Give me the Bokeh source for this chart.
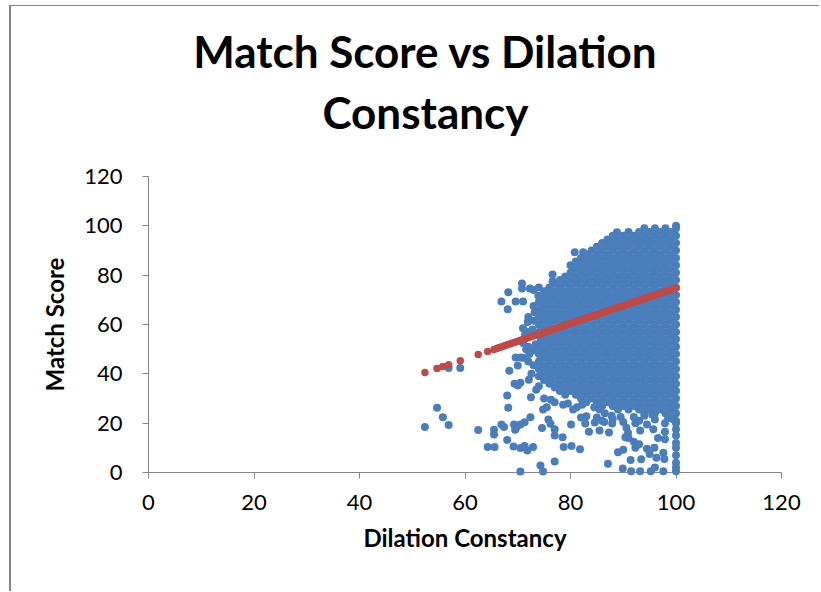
from bokeh.plotting import figure
from bokeh.models import Range1d, FixedTicker
from bokeh.embed import file_html
from bokeh.resources import INLINE
from bokeh.core.properties import value

# ---- tick values ----
x_ticks = [0, 20, 40, 60, 80, 100, 120]
y_ticks = [0, 20, 40, 60, 80, 100, 120]

# ---- dense core of the cloud: Dilation Constancy columns and Match Scores ----
cloud_x_cols = [71, 72, 73, 74, 75, 76, 77, 78, 79, 80, 81, 82, 83, 84, 85,
                86, 87, 88, 89, 90, 91, 92, 93, 94, 95, 96, 97, 98, 99, 100]
cloud_y_cols = [
    [46.5, 52.5, 58.5],
    [45, 51, 57, 63],
    [43.5, 49.5, 55.5, 61.5, 67.5],
    [39, 42, 45, 48, 51, 57, 60, 63, 69, 75],
    [37.5, 40.5, 43.5, 46.5, 49.5, 52.5, 55.5, 58.5, 61.5, 64.5, 67.5, 70.5, 73.5],
    [36, 39, 42, 45, 48, 51, 54, 57, 60, 63, 66, 69, 72, 75],
    [34.5, 37.5, 40.5, 43.5, 46.5, 49.5, 52.5, 55.5, 58.5, 61.5, 64.5, 67.5, 70.5, 73.5, 76.5],
    [33, 36, 39, 42, 45, 48, 51, 54, 57, 60, 63, 66, 69, 72, 75, 78],
    [31.5, 34.5, 37.5, 40.5, 43.5, 46.5, 49.5, 52.5, 55.5, 58.5, 61.5, 64.5, 67.5, 70.5, 73.5, 76.5, 79.5],
    [33, 36, 39, 42, 45, 48, 51, 54, 57, 60, 63, 66, 69, 72, 75, 78, 81, 84],
    [31.5, 34.5, 37.5, 40.5, 43.5, 46.5, 49.5, 52.5, 55.5, 58.5, 61.5, 64.5, 67.5, 70.5, 73.5, 76.5, 79.5, 82.5, 85.5],
    [30, 33, 36, 39, 42, 45, 48, 51, 54, 57, 60, 63, 66, 69, 72, 75, 78, 81, 84, 87],
    [28.5, 31.5, 34.5, 37.5, 40.5, 43.5, 46.5, 49.5, 52.5, 55.5, 58.5, 61.5, 64.5, 67.5, 70.5, 73.5, 76.5, 79.5, 82.5, 85.5, 88.5],
    [30, 33, 36, 39, 42, 45, 48, 51, 54, 57, 60, 63, 66, 69, 72, 75, 78, 81, 84, 87, 90],
    [28.5, 31.5, 34.5, 37.5, 40.5, 43.5, 46.5, 49.5, 52.5, 55.5, 58.5, 61.5, 64.5, 67.5, 70.5, 73.5, 76.5, 79.5, 82.5, 85.5, 88.5, 91.5],
    [27, 30, 33, 36, 39, 42, 45, 48, 51, 54, 57, 60, 63, 66, 69, 72, 75, 78, 81, 84, 87, 90, 93],
    [28.5, 31.5, 34.5, 37.5, 40.5, 43.5, 46.5, 49.5, 52.5, 55.5, 58.5, 61.5, 64.5, 67.5, 70.5, 73.5, 76.5, 79.5, 82.5, 85.5, 88.5, 91.5, 94.5],
    [27, 30, 33, 36, 39, 42, 45, 48, 51, 54, 57, 60, 63, 66, 69, 72, 75, 78, 81, 84, 87, 90, 93, 96],
    [25.5, 28.5, 31.5, 34.5, 37.5, 40.5, 43.5, 46.5, 49.5, 52.5, 55.5, 58.5, 61.5, 64.5, 67.5, 70.5, 73.5, 76.5, 79.5, 82.5, 85.5, 88.5, 91.5, 94.5],
    [27, 30, 33, 36, 39, 42, 45, 48, 51, 54, 57, 60, 63, 66, 69, 72, 75, 78, 81, 84, 87, 90, 93, 96],
    [25.5, 28.5, 31.5, 34.5, 37.5, 40.5, 43.5, 46.5, 49.5, 52.5, 55.5, 58.5, 61.5, 64.5, 67.5, 70.5, 73.5, 76.5, 79.5, 82.5, 85.5, 88.5, 91.5, 94.5, 97.5],
    [27, 30, 33, 36, 39, 42, 45, 48, 51, 54, 57, 60, 63, 66, 69, 72, 75, 78, 81, 84, 87, 90, 93, 96],
    [25.5, 28.5, 31.5, 34.5, 37.5, 40.5, 43.5, 46.5, 49.5, 52.5, 55.5, 58.5, 61.5, 64.5, 67.5, 70.5, 73.5, 76.5, 79.5, 82.5, 85.5, 88.5, 91.5, 94.5, 97.5],
    [24, 27, 30, 33, 36, 39, 42, 45, 48, 51, 54, 57, 60, 63, 66, 69, 72, 75, 78, 81, 84, 87, 90, 93, 96, 99],
    [25.5, 28.5, 31.5, 34.5, 37.5, 40.5, 43.5, 46.5, 49.5, 52.5, 55.5, 58.5, 61.5, 64.5, 67.5, 70.5, 73.5, 76.5, 79.5, 82.5, 85.5, 88.5, 91.5, 94.5, 97.5],
    [24, 27, 30, 33, 36, 39, 42, 45, 48, 51, 54, 57, 60, 63, 66, 69, 72, 75, 78, 81, 84, 87, 90, 93, 96, 99],
    [25.5, 28.5, 31.5, 34.5, 37.5, 40.5, 43.5, 46.5, 49.5, 52.5, 55.5, 58.5, 61.5, 64.5, 67.5, 70.5, 73.5, 76.5, 79.5, 82.5, 85.5, 88.5, 91.5, 94.5, 97.5],
    [24, 27, 30, 33, 36, 39, 42, 45, 48, 51, 54, 57, 60, 63, 66, 69, 72, 75, 78, 81, 84, 87, 90, 93, 96, 99],
    [22.5, 25.5, 28.5, 31.5, 34.5, 37.5, 40.5, 43.5, 46.5, 49.5, 52.5, 55.5, 58.5, 61.5, 64.5, 67.5, 70.5, 73.5, 76.5, 79.5, 82.5, 85.5, 88.5, 91.5, 94.5, 97.5],
    [21, 24, 27, 30, 33, 36, 39, 42, 45, 48, 51, 54, 57, 60, 63, 66, 69, 72, 75, 78, 81, 84, 87, 90, 93, 96, 99],
]

# ---- scattered points outside the dense core ----
outlier_x = [52.4, 54.7, 55.8, 56.9, 56.9, 59.1, 62.5, 64.3, 65.6, 65.5,
             65.5, 66.9, 67.4, 68.0, 69.3, 69.5, 69.8, 69.2, 70.5, 71.3,
             71.8, 72.9, 70.5, 71.3, 72.4, 70.5, 74.3, 74.8, 77.0, 68.0,
             68.2, 68.4, 69.4, 70.0, 70.5, 72.1, 69.6, 70.5, 70.0, 66.9,
             68.1, 69.6, 71.0, 68.2, 70.8, 70.8, 72.3, 73.9, 73.0, 76.6,
             76.6, 80.8, 82.4, 88.8, 74.8, 75.5, 76.2, 75.8, 74.6, 77.0,
             77.0, 78.5, 80.1, 78.7, 80.2, 81.8, 82.8, 83.5, 84.6, 85.5,
             86.4, 87.3, 87.9, 87.1, 89.0, 90.0, 91.4, 93.4, 89.9, 91.5,
             93.2, 95.2, 96.0, 97.6, 100.0, 91.0, 92.0, 92.3, 93.0, 94.5,
             95.9, 95.0, 96.3, 97.8, 97.6, 100.0, 90.4, 90.9, 90.6, 92.3,
             93.2, 94.5, 95.7, 96.6, 97.9, 97.9, 97.9, 100.0, 100.0, 100.0,
             100.0, 100.0, 100.0, 100.0, 75.0, 76.3, 77.0, 78.6, 79.5, 80.5,
             81.2, 82.2, 84.5, 85.5, 86.5, 87.8, 89.5, 92.0, 94.0, 95.5,
             98.5, 99.5, 82.0, 83.0, 85.0, 86.0, 88.0, 90.0, 93.0, 96.0,
             100.0, 73.5, 72.5, 74.0, 71.6, 72.2, 72.8, 73.4, 74.4, 71.9,
             72.6, 73.2, 71.4, 74.2]
outlier_y = [18.4, 26.2, 22.4, 19.3, 42.4, 42.4, 17.2, 10.3, 10.3, 17.3,
             15.4, 19.5, 18.4, 13.2, 19.5, 17.3, 18.4, 10.5, 9.9, 10.7,
             8.9, 10.3, 19.5, 20.4, 22.4, 0.4, 2.8, 0.4, 4.5, 31.2,
             26.2, 41.3, 36.0, 35.3, 36.4, 37.6, 46.6, 46.6, 43.4, 69.3,
             66.2, 69.3, 69.3, 73.1, 76.6, 74.6, 74.6, 71.7, 74.0, 80.3,
             77.5, 89.3, 89.3, 97.4, 25.5, 26.5, 19.8, 21.5, 18.0, 17.5,
             15.0, 14.3, 19.5, 10.3, 10.7, 9.4, 19.9, 16.5, 20.3, 17.0,
             20.5, 16.2, 19.9, 3.5, 8.2, 9.2, 5.1, 5.4, 1.6, 0.5,
             0.5, 0.5, 2.0, 0.5, 0.5, 14.0, 12.5, 10.0, 11.5, 9.6,
             10.0, 7.5, 6.0, 5.5, 8.0, 7.0, 14.3, 16.0, 18.1, 20.0,
             17.0, 19.5, 17.5, 14.0, 20.0, 16.5, 13.5, 20.0, 17.5, 15.0,
             12.0, 10.0, 4.0, 2.0, 30.0, 29.5, 28.5, 27.5, 28.0, 25.5,
             26.5, 27.5, 26.5, 25.5, 24.0, 23.0, 22.5, 22.5, 23.0, 23.5,
             22.0, 21.5, 22.3, 22.8, 22.3, 21.0, 21.7, 20.5, 21.0, 21.5,
             100.0, 33.5, 30.5, 35.0, 50.0, 48.0, 58.0, 52.0, 54.0, 61.0,
             40.0, 65.0, 56.0, 66.0]

# ---- linear trendline predictions (red points) ----
trend_x = [52.4, 54.7, 55.8, 56.9, 59.1, 62.5, 64.3, 65.5, 66.0, 66.5,
           67.0, 67.5, 68.0, 68.5, 69.0, 69.5, 70.0, 70.5, 71.0, 71.5,
           72.0, 72.5, 73.0, 73.5, 74.0, 74.5, 75.0, 75.5, 76.0, 76.5,
           77.0, 77.5, 78.0, 78.5, 79.0, 79.5, 80.0, 80.5, 81.0, 81.5,
           82.0, 82.5, 83.0, 83.5, 84.0, 84.5, 85.0, 85.5, 86.0, 86.5,
           87.0, 87.5, 88.0, 88.5, 89.0, 89.5, 90.0, 90.5, 91.0, 91.5,
           92.0, 92.5, 93.0, 93.5, 94.0, 94.5, 95.0, 95.5, 96.0, 96.5,
           97.0, 97.5, 98.0, 98.5, 99.0, 99.5, 100.0]
trend_y = [40.5, 42.2, 43.0, 43.7, 45.3, 47.8, 49.1, 49.9, 50.3, 50.7,
           51.0, 51.4, 51.8, 52.1, 52.5, 52.8, 53.2, 53.6, 53.9, 54.3,
           54.6, 55.0, 55.4, 55.7, 56.1, 56.4, 56.8, 57.2, 57.5, 57.9,
           58.2, 58.6, 59.0, 59.3, 59.7, 60.0, 60.4, 60.8, 61.1, 61.5,
           61.8, 62.2, 62.6, 62.9, 63.3, 63.6, 64.0, 64.4, 64.7, 65.1,
           65.5, 65.8, 66.2, 66.5, 66.9, 67.3, 67.6, 68.0, 68.3, 68.7,
           69.1, 69.4, 69.8, 70.1, 70.5, 70.9, 71.2, 71.6, 71.9, 72.3,
           72.7, 73.0, 73.4, 73.7, 74.1, 74.5, 74.8]

title_lines = ["Match Score vs Dilation", "Constancy"]
title_x = [52.5, 52.5]
title_y = [170.9, 146.2]
x_label = "Dilation Constancy"
y_label = "Match Score"

blue_x = outlier_x + [cx for cx, ys in zip(cloud_x_cols, cloud_y_cols) for _ in ys]
blue_y = outlier_y + [yy for ys in cloud_y_cols for yy in ys]

BLUE = "#4A7EBB"
RED = "#BE4B48"
AXIS = "#868686"
FONT = "Lato"

p = figure(width=810, height=586,
           x_range=Range1d(0, 120), y_range=Range1d(0, 120),
           output_backend="svg", toolbar_location=None,
           min_border_left=137, min_border_right=40,
           min_border_top=170, min_border_bottom=120)
p.title = None
p.styles = {"border-top": "1px solid #868686", "border-left": "2px solid #868686",
            "margin-left": "9px", "margin-top": "5px"}
p.outline_line_color = None
p.xgrid.visible = False
p.ygrid.visible = False
p.background_fill_color = "white"
p.border_fill_color = "white"

p.scatter(blue_x, blue_y, size=8, fill_color=BLUE, line_color=None, level="overlay")
p.scatter(trend_x, trend_y, size=7.5, fill_color=RED, line_color=None, level="overlay")

for ax, ticks, lab in ((p.xaxis, x_ticks, x_label), (p.yaxis, y_ticks, y_label)):
    ax.ticker = FixedTicker(ticks=ticks)
    ax.minor_tick_line_color = None
    ax.axis_line_color = AXIS
    ax.major_tick_line_color = AXIS
    ax.major_tick_in = 0
    ax.major_tick_out = 6
    ax.major_label_text_font = FONT
    ax.major_label_text_font_size = "22px"
    ax.major_label_text_color = "black"
    ax.axis_label = lab
    ax.axis_label_text_font = FONT
    ax.axis_label_text_font_style = "bold"
    ax.axis_label_text_font_size = "24px"
    ax.axis_label_text_color = "black"

p.xaxis.major_label_standoff = 16
p.yaxis.major_label_standoff = 20
p.xaxis.axis_label_standoff = 10
p.yaxis.axis_label_standoff = 12

p.text(x=title_x, y=title_y, text=title_lines, text_align="center",
       text_baseline="alphabetic", text_font=value(FONT),
       text_font_style="bold", text_font_size="44px",
       text_color="black", level="overlay")

open("out.html", "w").write(file_html(p, INLINE))
